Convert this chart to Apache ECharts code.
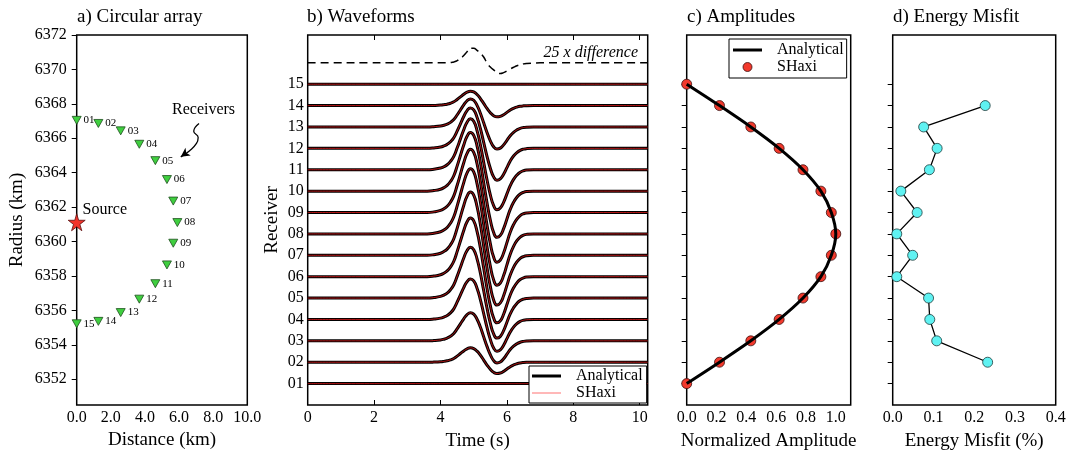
<!DOCTYPE html>
<html><head><meta charset="utf-8">
<script src="https://cdn.jsdelivr.net/npm/echarts@6/dist/echarts.min.js"></script>
<style>html,body{margin:0;padding:0;background:#fff}#c{width:1066px;height:454px}</style>
</head><body><div id="c"></div>
<script>
const FONT = '"Liberation Serif", "Times New Roman", serif';

// ---- data ----
const receivers = ['01','02','03','04','05','06','07','08','09','10','11','12','13','14','15'];
const receiverIndex = [1,2,3,4,5,6,7,8,9,10,11,12,13,14,15];
// panel a: receiver positions (km)
const recvDist = [0.00,1.27,2.58,3.67,4.61,5.29,5.66,5.90,5.66,5.29,4.61,3.67,2.58,1.27,0.00];
const recvRadius = [6367.04,6366.86,6366.43,6365.65,6364.70,6363.60,6362.35,6361.10,6359.90,6358.64,6357.55,6356.65,6355.87,6355.36,6355.22];
const sourcePos = [0.00, 6361.12];
// panel c: normalized amplitudes per receiver
const amplitudes = [0.00,0.22,0.43,0.62,0.78,0.90,0.97,1.00,0.97,0.90,0.78,0.62,0.43,0.22,0.00];
// panel d: energy misfit (%) for receivers 02..14
const misfitReceivers = [2,3,4,5,6,7,8,9,10,11,12,13,14];
const misfit = [0.233,0.108,0.091,0.088,0.010,0.049,0.010,0.060,0.020,0.090,0.109,0.076,0.227];
// panel b: wavelet shape for unit amplitude (in receiver-spacing units)
const waveTime  = [3.4,3.6,3.8,4.0,4.1,4.2,4.3,4.4,4.5,4.6,4.7,4.8,4.9,5.0,5.1,5.2,5.3,5.4,5.5,5.6,5.7,5.8,5.9,6.0,6.1,6.2,6.3,6.4,6.5,6.6,6.8];
const waveValue = [0,0,0.03,0.10,0.18,0.30,0.50,0.80,1.30,1.85,2.40,2.85,3.05,2.90,2.35,1.50,0.45,-0.60,-1.50,-2.15,-2.40,-2.30,-1.95,-1.45,-0.95,-0.58,-0.32,-0.15,-0.06,-0.02,0];
// panel b: 25 x difference trace
const diffTime  = [4.2,4.4,4.5,4.6,4.7,4.8,4.9,5.0,5.1,5.2,5.3,5.4,5.5,5.6,5.7,5.8,5.9,6.0,6.1,6.2,6.3,6.4,6.5,6.6,6.8,7.0];
const diffValue = [0,0.04,0.10,0.20,0.34,0.52,0.68,0.68,0.58,0.45,0.27,0.0,-0.20,-0.33,-0.45,-0.50,-0.46,-0.38,-0.29,-0.21,-0.14,-0.09,-0.05,-0.03,-0.01,0];
const diffBaseline = 16;
const timeEnd = 10.24;
// tick labels
const radiusTicks = [6352,6354,6356,6358,6360,6362,6364,6366,6368,6370,6372];
const distTicks = [0,2,4,6,8,10];
const timeTicks = [0,2,4,6,8,10];
const ampTicks = [0,0.2,0.4,0.6,0.8,1.0];
const misfitTicks = [0,0.1,0.2,0.3,0.4];

// ---- build ----
const lab = (extra) => Object.assign({color:'#000', fontFamily:FONT, fontSize:16}, extra||{});
const nameStyle = {color:'#000', fontFamily:FONT, fontSize:19};
const G = [
  {left:76.7, top:35, width:170.6, height:370},
  {left:307.7, top:35, width:340, height:370},
  {left:686.7, top:35, width:164, height:370},
  {left:892.7, top:35, width:163, height:370}
].map(g => Object.assign(g, {show:true, borderColor:'#000', borderWidth:1.5, backgroundColor:'transparent', containLabel:false, outerBoundsMode:'none'}));

const tickStyle = {color:'#000', width:1};
const xAxes = [
  {gridIndex:0, type:'value', min:0, max:10, axisLine:{show:false}, splitLine:{show:false}, axisTick:{show:false},
   axisLabel: lab({customValues:distTicks, formatter:v=>v.toFixed(1), margin:5}),
   name:'Distance (km)', nameLocation:'middle', nameGap:22, nameTextStyle:nameStyle},
  {gridIndex:1, type:'value', min:0, max:timeEnd, position:'bottom', axisLine:{show:false}, splitLine:{show:false},
   axisTick:{show:true, inside:true, length:5, customValues:timeTicks, lineStyle:tickStyle},
   axisLabel: lab({customValues:timeTicks, formatter:v=>String(v), margin:5}),
   name:'Time (s)', nameLocation:'middle', nameGap:27, nameTextStyle:nameStyle},
  {gridIndex:1, type:'value', min:0, max:timeEnd, position:'top', axisLine:{show:false}, splitLine:{show:false},
   axisTick:{show:true, inside:true, length:5, customValues:timeTicks, lineStyle:tickStyle}, axisLabel:{show:false}},
  {gridIndex:2, type:'value', min:0, max:1.1, axisLine:{show:false}, splitLine:{show:false}, axisTick:{show:false},
   axisLabel: lab({customValues:ampTicks, formatter:v=>v.toFixed(1), margin:5}),
   name:'Normalized Amplitude', nameLocation:'middle', nameGap:27, nameTextStyle:nameStyle},
  {gridIndex:3, type:'value', min:0, max:0.4, axisLine:{show:false}, splitLine:{show:false}, axisTick:{show:false},
   axisLabel: lab({customValues:misfitTicks, formatter:v=>v.toFixed(1), margin:5}),
   name:'Energy Misfit (%)', nameLocation:'middle', nameGap:27, nameTextStyle:nameStyle}
];
const yAxes = [
  {gridIndex:0, type:'value', min:6350.5, max:6372, axisLine:{show:false}, splitLine:{show:false},
   axisTick:{show:true, inside:false, length:5, customValues:radiusTicks, lineStyle:tickStyle},
   axisLabel: lab({customValues:radiusTicks, formatter:v=>String(Math.round(v)), margin:10}),
   name:'Radius (km)', nameLocation:'middle', nameGap:50, nameTextStyle:nameStyle},
  {gridIndex:1, type:'value', min:0, max:17.3, axisLine:{show:false}, splitLine:{show:false}, axisTick:{show:false},
   axisLabel: lab({customValues:receiverIndex, formatter:v=>receivers[Math.round(v)-1], margin:4}),
   name:'Receiver', nameLocation:'middle', nameGap:26, nameTextStyle:nameStyle},
  {gridIndex:2, type:'value', min:0, max:17.3, axisLine:{show:false}, splitLine:{show:false},
   axisTick:{show:true, inside:false, length:5, customValues:receiverIndex, lineStyle:tickStyle}, axisLabel:{show:false}},
  {gridIndex:3, type:'value', min:0, max:17.3, axisLine:{show:false}, splitLine:{show:false},
   axisTick:{show:true, inside:false, length:5, customValues:receiverIndex, lineStyle:tickStyle}, axisLabel:{show:false}}
];

const series = [];
// panel a
series.push({type:'scatter', name:'Receivers', xAxisIndex:0, yAxisIndex:0,
  data: recvDist.map((d,i)=>[d, recvRadius[i]]),
  symbol:'triangle', symbolRotate:180, symbolSize:[9,8],
  itemStyle:{color:'#3fcf3f', borderColor:'#1e4f1e', borderWidth:0.8, opacity:1},
  label:{show:true, position:'right', distance:2, formatter:p=>receivers[p.dataIndex], color:'#000', opacity:1, fontFamily:FONT, fontSize:11}
});
series.push({type:'scatter', name:'Source', xAxisIndex:0, yAxisIndex:0, data:[sourcePos],
  symbol:'path://M50,0 L61,35 L98,35 L68,57 L79,91 L50,70 L21,91 L32,57 L2,35 L39,35 Z', symbolSize:17,
  itemStyle:{color:'#f2332a', borderColor:'#5a1010', borderWidth:0.8, opacity:1},
  label:{show:true, position:'right', distance:-3, offset:[0,-12], formatter:'Source', color:'#000', opacity:1, fontFamily:FONT, fontSize:16}
});
// squiggly arrow pointing at receivers (annotation)
(function(){
  const pts = [[7.17,6366.86],[6.86,6366.40],[7.12,6366.05],[7.02,6365.70],[6.62,6365.28],[6.10,6364.92]];
  series.push({type:'line', xAxisIndex:0, yAxisIndex:0, smooth:0.5, showSymbol:true, symbol:'none',
    lineStyle:{color:'#000', width:1.3}, silent:true,
    data: pts.map((p,i)=> i===pts.length-1 ? {value:p, symbol:'arrow', symbolSize:[7,9], symbolRotate:125, itemStyle:{color:'#000', opacity:1}} : {value:p})
  });
})();
// panel b
series.push({type:'line', name:'diff', xAxisIndex:1, yAxisIndex:1, smooth:true, showSymbol:false, symbol:'none',
  lineStyle:{color:'#000', width:1.5, type:[8,5]},
  data: [[0,diffBaseline]].concat(diffTime.map((t,k)=>[t, diffBaseline + diffValue[k]]), [[timeEnd,diffBaseline]])
});
receiverIndex.forEach((r,i)=>{
  const data = [[0,r]].concat(waveTime.map((t,k)=>[t, r + amplitudes[i]*waveValue[k]]), [[timeEnd,r]]);
  series.push({type:'line', name:'Analytical', xAxisIndex:1, yAxisIndex:1, smooth:true, showSymbol:false, symbol:'none',
    lineStyle:{color:'#000', width:3}, itemStyle:{color:'#000'}, data:data});
  series.push({type:'line', name:'SHaxi', xAxisIndex:1, yAxisIndex:1, smooth:true, showSymbol:false, symbol:'none',
    lineStyle:{color:'rgba(255,30,30,0.7)', width:1}, itemStyle:{color:'rgba(255,30,30,0.7)'}, data:data});
});
// panel c
series.push({type:'line', name:'Analytical', xAxisIndex:3, yAxisIndex:2, smooth:0.3, showSymbol:false, symbol:'none',
  lineStyle:{color:'#000', width:3}, itemStyle:{color:'#000'},
  data: amplitudes.map((a,i)=>[a, receiverIndex[i]])});
series.push({type:'scatter', name:'SHaxi', xAxisIndex:3, yAxisIndex:2, symbol:'circle', symbolSize:10,
  itemStyle:{color:'#f2392c', borderColor:'#3a1010', borderWidth:0.8, opacity:1},
  data: amplitudes.map((a,i)=>[a, receiverIndex[i]])});
// panel d
series.push({type:'line', name:'Misfit', xAxisIndex:4, yAxisIndex:3, symbol:'circle', symbolSize:10, showSymbol:true,
  lineStyle:{color:'#000', width:1.3},
  itemStyle:{color:'#5ff2f2', borderColor:'#1e3c3c', borderWidth:0.8, opacity:1},
  data: misfit.map((m,i)=>[m, misfitReceivers[i]])});

const legendText = {color:'#000', fontFamily:FONT, fontSize:16, padding:[0,0,0,10]};
const option = {
  animation:false,
  backgroundColor:'#fff',
  textStyle:{fontFamily:FONT},
  title:[
    {text:'a) Circular array', left:77, top:8},
    {text:'b) Waveforms', left:307, top:8},
    {text:'c) Amplitudes', left:687, top:8},
    {text:'d) Energy Misfit', left:893, top:8},
    {text:'Receivers', left:172, top:102, textStyle:{fontSize:16}},
    {text:'25 x difference', right:428, top:45, textStyle:{fontSize:16, fontStyle:'italic'}}
  ].map(t=>Object.assign({padding:0, itemGap:0}, t, {textStyle:Object.assign({color:'#000', fontFamily:FONT, fontSize:19, fontWeight:'normal'}, t.textStyle||{})})),
  grid:G,
  xAxis:xAxes,
  yAxis:yAxes,
  legend:[
    {left:529, top:366, orient:'vertical', padding:[2,4,2,3], itemGap:1, itemWidth:29, itemHeight:9,
     borderColor:'#000', borderWidth:1, borderRadius:0, backgroundColor:'#fff', selectedMode:false, textStyle:legendText,
     data:[{name:'Analytical', icon:'path://M0,0L29,0L29,3L0,3Z', itemStyle:{color:'#000', borderWidth:0}},
           {name:'SHaxi', icon:'path://M0,0L29,0L29,1L0,1Z', itemStyle:{color:'#ff7070', borderWidth:0}}]},
    {left:729, top:39, orient:'vertical', padding:[3,3,3,4], itemGap:1, itemWidth:29, itemHeight:9,
     borderColor:'#000', borderWidth:1, borderRadius:0, backgroundColor:'#fff', selectedMode:false, textStyle:legendText,
     data:[{name:'Analytical', icon:'path://M0,0L29,0L29,3L0,3Z', itemStyle:{color:'#000', borderWidth:0}},
           {name:'SHaxi', icon:'circle', itemStyle:{color:'#f2392c', borderColor:'#3a1010', borderWidth:0.8, opacity:1}}]}
  ],
  series:series
};
const chart = echarts.init(document.getElementById('c'));
chart.setOption(option);
</script></body></html>
